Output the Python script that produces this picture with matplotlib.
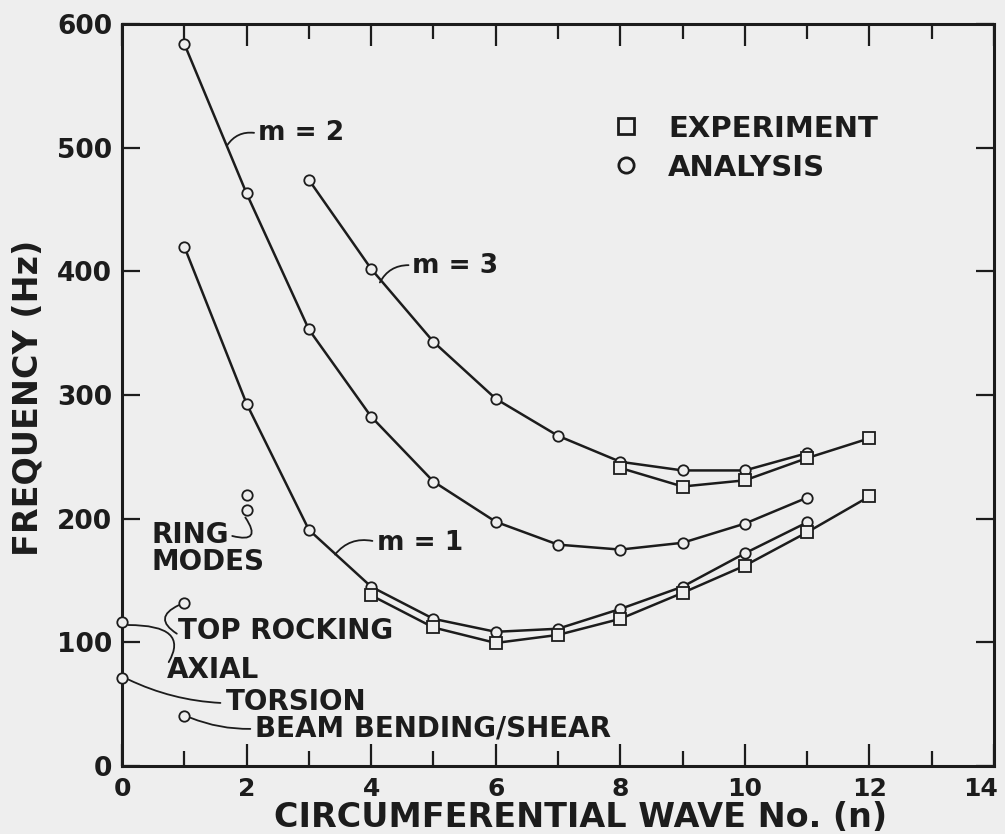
import matplotlib
matplotlib.use("Agg")
import matplotlib.pyplot as plt
import matplotlib.transforms as mtransforms
from matplotlib.lines import Line2D

# ---------------- data ----------------
n_m1_ana = [1, 2, 3, 4, 5, 6, 7, 8, 9, 10, 11]
f_m1_ana = [420, 293, 191, 145, 119, 108.5, 111, 127, 145, 172, 197]
n_m1_exp = [4, 5, 6, 7, 8, 9, 10, 11, 12]
f_m1_exp = [138, 112, 99.5, 106, 119, 140, 162, 189, 218]

n_m2_ana = [1, 2, 3, 4, 5, 6, 7, 8, 9, 10, 11]
f_m2_ana = [584, 463, 353, 282.5, 230, 197.5, 179, 175, 180.5, 196, 217]

n_m3_ana = [3, 4, 5, 6, 7, 8, 9, 10, 11]
f_m3_ana = [474, 402, 343, 297, 267, 246, 239, 239, 253]
n_m3_exp = [8, 9, 10, 11, 12]
f_m3_exp = [241, 226, 231, 249, 265]

ring_n = [2, 2]
ring_f = [219, 207]
rock_n, rock_f = 1, 132
axial_n, axial_f = 0, 116.5
tors_n, tors_f = 0, 71.5
beam_n, beam_f = 1, 40.5

xticks = [0, 2, 4, 6, 8, 10, 12, 14]
yticks = [0, 100, 200, 300, 400, 500, 600]

# ---------------- style ----------------
BG = "#eeeeee"
INK = "#1c1c1c"
FONT = "DejaVu Sans"

plt.rcParams["font.family"] = [FONT]
plt.rcParams["font.weight"] = "bold"

fig = plt.figure(figsize=(10.05, 8.34), dpi=100, facecolor=BG)
ax = fig.add_axes([122 / 1005, 1 - 766 / 834, 872 / 1005, 742 / 834])
ax.set_facecolor(BG)

line_kw = dict(color=INK, lw=1.8, zorder=3)
circ_kw = dict(marker="o", ms=7.5, mfc=BG, mec=INK, mew=1.3)
sq_kw = dict(marker="s", ms=8, mfc=BG, mec=INK, mew=1.3)

ax.plot(n_m1_ana, f_m1_ana, **line_kw, **circ_kw)
ax.plot(n_m1_exp, f_m1_exp, **line_kw, **sq_kw)
ax.plot(n_m2_ana, f_m2_ana, **line_kw, **circ_kw)
ax.plot(n_m3_ana, f_m3_ana, **line_kw, **circ_kw)
ax.plot(n_m3_exp, f_m3_exp, **line_kw, **sq_kw)

single_kw = dict(ls="none", zorder=5, clip_on=False, **circ_kw)
ax.plot(ring_n, ring_f, **single_kw)
ax.plot([rock_n], [rock_f], **single_kw)
ax.plot([axial_n], [axial_f], **single_kw)
ax.plot([tors_n], [tors_f], **single_kw)
ax.plot([beam_n], [beam_f], **single_kw)

# ---------------- axes ----------------
ax.set_xlim(0, 14)
ax.set_ylim(0, 600)
ax.set_xticks(xticks)
ax.set_xticks(range(1, 14, 2), minor=True)
ax.set_yticks(yticks)
ax.set_xticklabels([str(t) for t in xticks])
ax.set_yticklabels([str(t) for t in yticks])
for s in ax.spines.values():
    s.set_linewidth(2.2)
    s.set_color(INK)
ax.tick_params(which="major", direction="in", length=16, width=1.6,
               top=True, right=True, colors=INK, labelsize=19, pad=7)
ax.tick_params(axis="x", which="major", labelsize=18, pad=8)
ax.tick_params(which="minor", direction="in", length=11, width=1.6,
               top=True, right=False, colors=INK)
ax.tick_params(axis="y", which="major", length=13)
for lab in ax.get_xticklabels() + ax.get_yticklabels():
    lab.set_fontweight("bold")
# the last x label sits a little left of its tick, as in the original sheet
last = ax.get_xticklabels()[-1]
last.set_transform(last.get_transform() +
                   mtransforms.ScaledTranslation(-10 / 72, 0, fig.dpi_scale_trans))

ax.set_xlabel("CIRCUMFERENTIAL WAVE No. (n)", fontsize=24, fontweight="bold",
              color=INK, va="center")
ax.xaxis.set_label_coords(0.526, -0.069)
ax.set_ylabel("FREQUENCY (Hz)", fontsize=24, fontweight="bold",
              color=INK, va="center")
ax.yaxis.set_label_coords(-0.108, 0.496)

# ---------------- legend ----------------
handles = [Line2D([], [], ls="none", marker="s", ms=11, mfc=BG, mec=INK, mew=2.0),
           Line2D([], [], ls="none", marker="o", ms=11, mfc=BG, mec=INK, mew=2.0)]
leg = ax.legend(handles, ["EXPERIMENT", "ANALYSIS"], loc="upper left",
                bbox_to_anchor=(0.561, 0.878), frameon=False, fontsize=21,
                handlelength=1.0, handletextpad=0.95, labelspacing=0.38,
                borderpad=0, borderaxespad=0)
for t in leg.get_texts():
    t.set_color(INK)
    t.set_fontweight("bold")

# ---------------- annotations ----------------
tkw = dict(fontsize=20, fontweight="bold", color=INK, va="center", ha="left")
akw = dict(arrowstyle="-", color=INK, lw=1.3, shrinkA=0, shrinkB=0)

ax.text(2.18, 512, "m = 2", fontsize=19, fontweight="bold", color=INK,
        va="center", ha="left")
ax.annotate("", xy=(2.12, 512), xytext=(1.69, 502),
            arrowprops=dict(connectionstyle="arc3,rad=-0.3", **akw))
ax.text(4.66, 404, "m = 3", fontsize=19, fontweight="bold", color=INK,
        va="center", ha="left")
ax.annotate("", xy=(4.60, 405), xytext=(4.14, 391),
            arrowprops=dict(connectionstyle="arc3,rad=-0.3", **akw))
ax.text(4.09, 180, "m = 1", fontsize=19, fontweight="bold", color=INK,
        va="center", ha="left")
ax.annotate("", xy=(4.02, 182), xytext=(3.42, 171),
            arrowprops=dict(connectionstyle="arc3,rad=-0.3", **akw))

ax.text(0.48, 187, "RING", **tkw)
ax.text(0.48, 165, "MODES", **tkw)
ax.annotate("", xy=(1.77, 186), xytext=(1.98, 201),
            arrowprops=dict(connectionstyle="arc3,rad=-1.3", **akw))

ax.text(0.90, 109, "TOP ROCKING", **tkw)
ax.annotate("", xy=(0.88, 107), xytext=(0.91, 130),
            arrowprops=dict(connectionstyle="arc3,rad=0.9", **akw))

ax.text(0.72, 78, "AXIAL", **tkw)
ax.annotate("", xy=(0.75, 84), xytext=(0.1, 114),
            arrowprops=dict(connectionstyle="angle3,angleA=0,angleB=60", **akw))

ax.text(1.66, 52, "TORSION", **tkw)
ax.annotate("", xy=(1.58, 51), xytext=(0.1, 70),
            arrowprops=dict(connectionstyle="arc3,rad=0.1", **akw))

ax.text(2.14, 30.5, "BEAM BENDING/SHEAR", **tkw)
ax.annotate("", xy=(2.06, 30), xytext=(1.1, 39),
            arrowprops=dict(connectionstyle="arc3,rad=0.1", **akw))

fig.savefig("out.png", dpi=100, facecolor=BG)
